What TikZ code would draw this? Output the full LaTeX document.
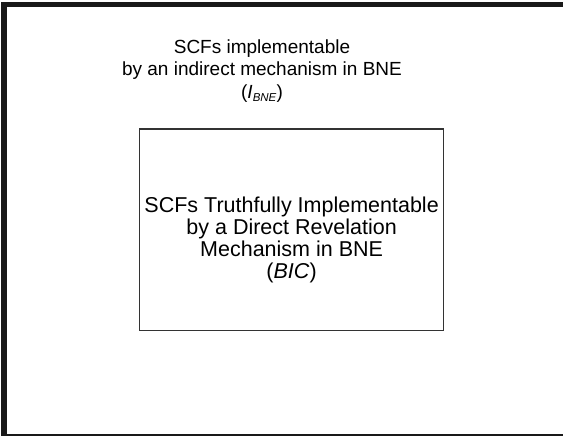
\documentclass[tikz,border=0pt]{standalone}
\usepackage{fontspec}
\setmainfont{Liberation Sans}
\begin{document}
\begin{tikzpicture}[x=1pt,y=-1pt,
  frame/.style={line width=5.5pt,draw=black!90},
  inbox/.style={line width=1.3pt,draw=black!80},
  lbl/.style={align=center,inner sep=0pt}]
\useasboundingbox (0,0) rectangle (563,436);
\draw[frame] (4,4.5) rectangle (575,437);
\node[inbox,minimum width=304.2pt,minimum height=201.7pt,inner sep=0pt] (bic) at (291.6,229.9) {};
\node[lbl,font=\fontsize{19}{22.4}\selectfont] (ibne) at (262,71) {SCFs implementable\\by an indirect mechanism in BNE\\(\textit{I}\raisebox{-0.35ex}{\fontsize{11.5}{11.5}\selectfont\textit{BNE}})};
\node[lbl,font=\fontsize{21.5}{22.2}\selectfont] (bict) at (bic.center) [yshift=-10pt] {SCFs Truthfully Implementable\\by a Direct Revelation\\Mechanism in BNE\\(\textit{BIC})};
\end{tikzpicture}
\end{document}
